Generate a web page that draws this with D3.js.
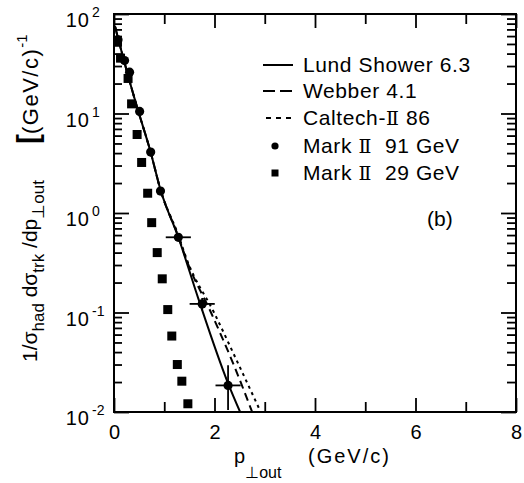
<!DOCTYPE html>
<html>
<head>
<meta charset="utf-8">
<script src="https://cdn.jsdelivr.net/npm/d3@7"></script>
<style>
  body { margin: 0; background: #fff; }
  svg { display: block; }
  text { font-family: "Liberation Sans", Arial, Helvetica, sans-serif; fill: #000; }
</style>
</head>
<body>
<svg id="chart" width="524" height="483"></svg>
<script>
// model curves (p_out in GeV/c, 1/sigma dsigma/dp)
const lundX    = [0.02, 0.145, 0.28, 0.48, 0.72, 0.93, 1.28, 1.68, 2.26, 2.51];
const lundY    = [75, 43, 24, 10.7, 4.25, 1.68, 0.57, 0.137, 0.02, 0.01];
const webberX  = [0.02, 0.145, 0.28, 0.48, 0.72, 0.93, 1.28, 1.45, 1.93, 2.38, 2.75];
const webberY  = [75, 43, 24, 10.7, 4.25, 1.68, 0.58, 0.33, 0.1, 0.03, 0.01];
const caltechX = [0.02, 0.145, 0.28, 0.48, 0.72, 0.93, 1.28, 1.45, 1.99, 2.48, 2.92];
const caltechY = [75, 43, 24, 10.7, 4.25, 1.68, 0.6, 0.34, 0.1, 0.03, 0.01];

// Mark II 91 GeV (circles) with error bars
const mk91X    = [0.08, 0.21, 0.31, 0.51, 0.73, 0.925, 1.28, 1.755, 2.27];
const mk91Y    = [55, 34, 26, 10.5, 4.1, 1.66, 0.57, 0.122, 0.0185];
const mk91Xerr = [0, 0, 0, 0, 0, 0, 0.25, 0.25, 0.25];
const mk91YLo  = [55, 34, 26, 10.5, 4.1, 1.66, 0.54, 0.105, 0.0105];
const mk91YHi  = [55, 34, 26, 10.5, 4.1, 1.66, 0.6, 0.14, 0.0295];

// Mark II 29 GeV (squares)
const mk29X = [0.07, 0.13, 0.28, 0.35, 0.46, 0.55, 0.67, 0.75, 0.86, 0.96, 1.07, 1.15, 1.26, 1.35, 1.47];
const mk29Y = [52, 36, 22.5, 12.5, 6.15, 3.22, 1.58, 0.8, 0.4, 0.218, 0.107, 0.058, 0.03, 0.0204, 0.0121];

const xMajor = [0, 2, 4, 6, 8];
const xMinor = [1, 3, 5, 7];
const yDecades = [-2, -1, 0, 1, 2];
// each label split as [before, roman numeral, after]
const legendLabels = [
  ["Lund Shower 6.3", "", ""],
  ["Webber 4.1", "", ""],
  ["Caltech-", "Ⅱ", " 86"],
  ["Mark ", "Ⅱ", "  91 GeV"],
  ["Mark ", "Ⅱ", "  29 GeV"]
];

const svg = d3.select('#chart');
const margin = { top: 14, right: 8, bottom: 71, left: 114 };
const width = 524 - margin.left - margin.right;
const height = 483 - margin.top - margin.bottom;

const x = d3.scaleLinear().domain([0, 8]).range([margin.left, margin.left + width]);
const y = d3.scaleLog().domain([1e-2, 1e2]).range([margin.top + height, margin.top]);

const yMinor = [];
yDecades.slice(0, -1).forEach(e => { for (let k = 2; k <= 9; k++) yMinor.push(k * Math.pow(10, e)); });
const yMajor = yDecades.map(e => Math.pow(10, e));

function styleAxis(g) {
  g.select('.domain').remove();
  g.selectAll('line').attr('stroke', '#000').attr('stroke-width', 1.8);
}

// bottom
svg.append('g').attr('transform', `translate(0,${margin.top + height})`)
  .call(d3.axisBottom(x).tickValues(xMajor).tickSize(-14).tickPadding(13).tickFormat(d3.format('d')))
  .call(styleAxis)
  .selectAll('text').style('font-size', '20px');
svg.append('g').attr('transform', `translate(0,${margin.top + height})`)
  .call(d3.axisBottom(x).tickValues(xMinor).tickSize(-10).tickFormat(''))
  .call(styleAxis);
// top
svg.append('g').attr('transform', `translate(0,${margin.top})`)
  .call(d3.axisTop(x).tickValues(xMajor).tickSize(-14).tickFormat(''))
  .call(styleAxis);
svg.append('g').attr('transform', `translate(0,${margin.top})`)
  .call(d3.axisTop(x).tickValues(xMinor).tickSize(-10).tickFormat(''))
  .call(styleAxis);
// left
svg.append('g').attr('transform', `translate(${margin.left},0)`)
  .call(d3.axisLeft(y).tickValues(yMajor).tickSize(-15).tickFormat(''))
  .call(styleAxis);
svg.append('g').attr('transform', `translate(${margin.left},0)`)
  .call(d3.axisLeft(y).tickValues(yMinor).tickSize(-8).tickFormat(''))
  .call(styleAxis);
// right
svg.append('g').attr('transform', `translate(${margin.left + width},0)`)
  .call(d3.axisRight(y).tickValues(yMajor).tickSize(-15).tickFormat(''))
  .call(styleAxis);
svg.append('g').attr('transform', `translate(${margin.left + width},0)`)
  .call(d3.axisRight(y).tickValues(yMinor).tickSize(-9).tickFormat(''))
  .call(styleAxis);

// frame
svg.append('rect')
  .attr('x', margin.left).attr('y', margin.top)
  .attr('width', width).attr('height', height)
  .attr('fill', 'none').attr('stroke', '#000').attr('stroke-width', 2);

// y tick labels 10^n
yDecades.forEach(e => {
  svg.append('text')
    .attr('x', 90).attr('y', y(Math.pow(10, e)) + 13)
    .attr('text-anchor', 'end')
    .style('font-size', '20px').style('letter-spacing', '1px')
    .text('10');
  svg.append('text')
    .attr('x', 92).attr('y', y(Math.pow(10, e)) + 3)
    .style('font-size', '14px')
    .text(e < 0 ? '-' + (-e) : String(e));
});

// axis titles
const xt = svg.append('text').attr('x', 234).attr('y', 463).style('font-size', '20px');
xt.append('tspan').text('p');
xt.append('tspan').attr('dy', 15).style('font-size', '16px').text('⊥out');
xt.append('tspan').attr('x', 308).attr('y', 463).style('letter-spacing', '2px').text('(GeV/c)');

const yt = svg.append('text')
  .attr('transform', 'translate(37,362) rotate(-90)')
  .style('font-size', '21px');
yt.append('tspan').text('1/σ');
yt.append('tspan').attr('dy', 7).style('font-size', '17px').text('had');
yt.append('tspan').attr('dy', -7).text('  dσ');
yt.append('tspan').attr('dy', 7).style('font-size', '17px').text('trk');
yt.append('tspan').attr('dy', -7).text(' /dp');
yt.append('tspan').attr('dy', 7).style('font-size', '17px').text('⊥out');

const yu = svg.append('text')
  .attr('transform', 'translate(38,144) rotate(-90)')
  .style('font-size', '22px');
yu.append('tspan').style('font-size', '30px').style('font-weight', 'bold').text('[');
yu.append('tspan').style('letter-spacing', '1.5px').text('(GeV/c)');
yu.append('tspan').attr('dy', -11).style('font-size', '15px').text('-1');

// clip
svg.append('clipPath').attr('id', 'plotclip')
  .append('rect').attr('x', margin.left).attr('y', margin.top).attr('width', width).attr('height', height);

const line = d3.line().x(d => x(d[0])).y(d => y(d[1])).curve(d3.curveMonotoneX);
const curves = [
  { xs: lundX, ys: lundY, dash: null },
  { xs: webberX, ys: webberY, dash: '8,5' },
  { xs: caltechX, ys: caltechY, dash: '3,4' }
];
svg.append('g').attr('clip-path', 'url(#plotclip)')
  .selectAll('path')
  .data(curves)
  .join('path')
    .attr('d', c => line(d3.zip(c.xs, c.ys)))
    .attr('fill', 'none')
    .attr('stroke', '#000')
    .attr('stroke-width', 2)
    .attr('stroke-dasharray', c => c.dash);

// error bars
const eb = svg.append('g').attr('stroke', '#000').attr('stroke-width', 1.8);
mk91X.forEach((xv, i) => {
  if (mk91Xerr[i] > 0) {
    eb.append('line')
      .attr('x1', x(xv - mk91Xerr[i])).attr('x2', x(xv + mk91Xerr[i]))
      .attr('y1', y(mk91Y[i])).attr('y2', y(mk91Y[i]));
  }
  if (mk91YHi[i] !== mk91YLo[i]) {
    eb.append('line')
      .attr('x1', x(xv)).attr('x2', x(xv))
      .attr('y1', y(mk91YLo[i])).attr('y2', y(mk91YHi[i]));
  }
});

// markers
svg.append('g').selectAll('rect')
  .data(d3.zip(mk29X, mk29Y))
  .join('rect')
    .attr('x', d => x(d[0]) - 4.5).attr('y', d => y(d[1]) - 4.5)
    .attr('width', 9).attr('height', 9)
    .attr('fill', '#000');
svg.append('g').selectAll('circle')
  .data(d3.zip(mk91X, mk91Y))
  .join('circle')
    .attr('cx', d => x(d[0])).attr('cy', d => y(d[1]))
    .attr('r', 4.6)
    .attr('fill', '#000');

// legend
const legY = [72, 98, 125, 153, 180];
const lg = svg.append('g');
legendLabels.forEach((lab, i) => {
  const cy = legY[i] - 7;
  if (i < 3) {
    lg.append('line')
      .attr('x1', i === 2 ? 266 : 263).attr('x2', 293)
      .attr('y1', cy).attr('y2', cy)
      .attr('stroke', '#000').attr('stroke-width', 2)
      .attr('stroke-dasharray', i === 0 ? null : (i === 1 ? '12,5' : '5,5'));
  } else if (i === 3) {
    lg.append('circle').attr('cx', 275).attr('cy', cy).attr('r', 3.6).attr('fill', '#000');
  } else {
    lg.append('rect').attr('x', 271.5).attr('y', cy - 3.5).attr('width', 7).attr('height', 7).attr('fill', '#000');
  }
  const t = lg.append('text')
    .attr('x', 303).attr('y', legY[i])
    .style('font-size', '21px').style('letter-spacing', '0.6px')
    .style('white-space', 'pre');
  t.append('tspan').text(lab[0]);
  if (lab[1]) {
    t.append('tspan').style('font-family', '"DejaVu Serif", "Liberation Serif", serif').style('font-size', '19px').text(lab[1]);
    t.append('tspan').text(lab[2]);
  }
});

svg.append('text').attr('x', 427).attr('y', 226).style('font-size', '21px').text('(b)');
</script>
</body>
</html>
